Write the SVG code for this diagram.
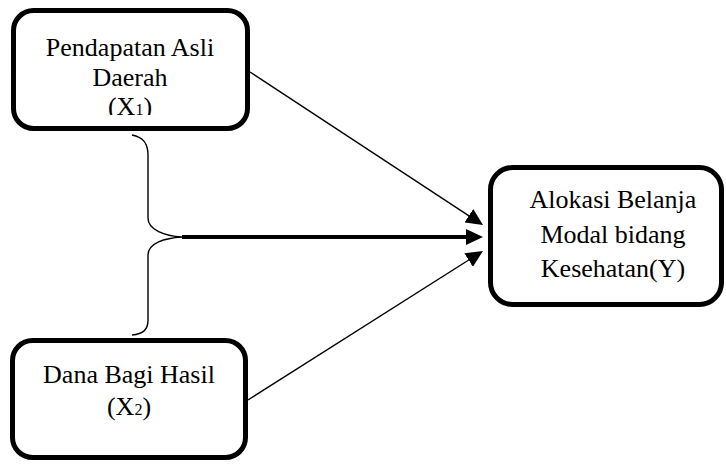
<svg xmlns="http://www.w3.org/2000/svg" width="726" height="467" viewBox="0 0 726 467">
<style>
.box{fill:#fff;stroke:#000;stroke-width:5}
.t{font-family:'Liberation Serif',serif;font-size:26px;fill:#000;text-anchor:middle}
.thin{stroke:#000;stroke-width:1.4;fill:none}
.thick{stroke:#000;stroke-width:4;fill:none}
</style>
<defs>
<marker id="ah" markerUnits="userSpaceOnUse" markerWidth="18" markerHeight="16" refX="2" refY="8" orient="auto">
<path d="M0,0 L17,8 L0,16 z" fill="#000"/>
</marker>
<clipPath id="c1"><rect x="0" y="0" width="260" height="115"/></clipPath>
</defs>
<g id="connectors">
<path class="thin" d="M132,135 C143,137 148,143 148,155 L148,218 C148,230 165,236 182,237 C165,238 148,243 148,255 L148,320 C148,330 143,334 132,335"/>
<line class="thick" x1="182" y1="237" x2="468" y2="237" marker-end="url(#ah)"/>
<line class="thin" x1="250" y1="72" x2="470.5" y2="216.8" marker-end="url(#ah)"/>
<line class="thin" x1="248" y1="400" x2="470.3" y2="259" marker-end="url(#ah)"/>
</g>
<g id="node-x1">
<rect class="box" x="13.5" y="10.5" width="234" height="118" rx="20"/>
<g clip-path="url(#c1)">
<text class="t" x="130" y="56">Pendapatan Asli</text>
<text class="t" x="130" y="86">Daerah</text>
<text class="t" x="130" y="115">(X<tspan font-size="16">1</tspan>)</text>
</g>
</g>
<g id="node-x2">
<rect class="box" x="12.5" y="340.5" width="233" height="117" rx="20"/>
<text class="t" x="129" y="383">Dana Bagi Hasil</text>
<text class="t" x="129" y="415">(X<tspan font-size="16">2</tspan>)</text>
</g>
<g id="node-y">
<rect class="box" x="490.5" y="167.5" width="231" height="137" rx="22"/>
<text class="t" x="613" y="208">Alokasi Belanja</text>
<text class="t" x="613" y="243">Modal bidang</text>
<text class="t" x="613" y="277">Kesehatan(Y)</text>
</g>
</svg>
